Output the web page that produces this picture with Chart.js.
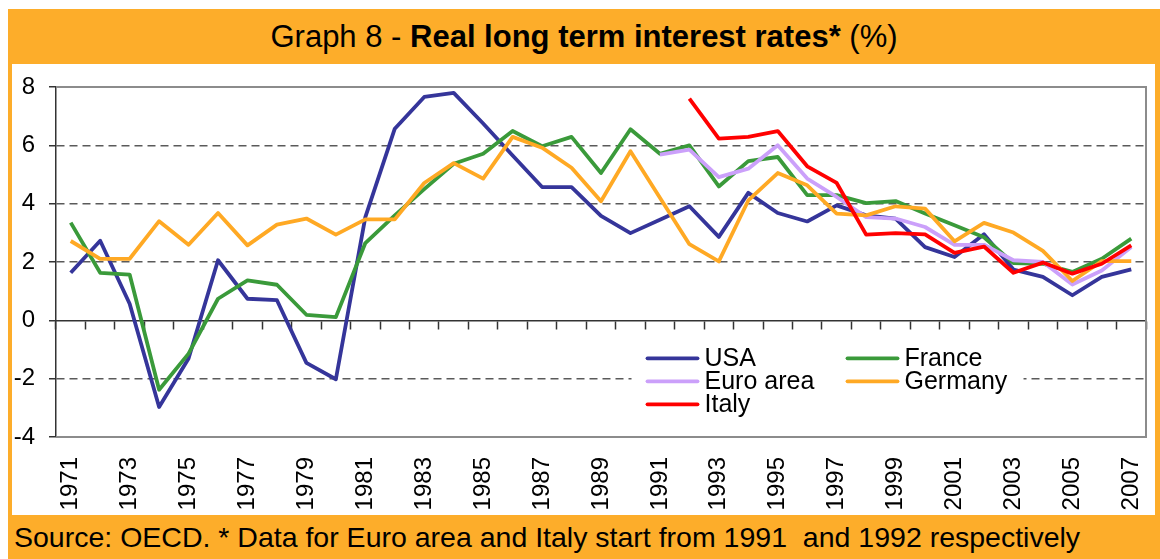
<!DOCTYPE html>
<html>
<head>
<meta charset="utf-8">
<script src="https://cdn.jsdelivr.net/npm/chart.js@4.4.1/dist/chart.umd.min.js"></script>
<style>
  body { margin: 0; background: #fff; font-family: "Liberation Sans", Arial, sans-serif; }
  #page { position: relative; width: 1160px; height: 559px; overflow: hidden; }
  #frame { position: absolute; left: 8px; top: 9px; width: 1152px; height: 550px; background: #FDAD2A; }
  #title { position: absolute; left: 8px; top: 9px; width: 1152px; height: 55px; line-height: 55px;
           text-align: center; font-size: 31px; color: #000; }
  #plotbox { position: absolute; left: 12px; top: 64px; width: 1143px; height: 451px; background: #fff; }
  #source { position: absolute; left: 14px; top: 515px; height: 44px; line-height: 44px;
            font-size: 28.5px; color: #000; white-space: pre; }
</style>
</head>
<body>
<div id="page">
  <div id="frame"></div>
  <div id="title">Graph 8 - <b>Real long term interest rates*</b> (%)</div>
  <div id="plotbox"><canvas id="rates-chart"></canvas></div>
  <div id="source">Source: OECD. * Data for Euro area and Italy start from 1991  and 1992 respectively</div>
</div>
<script>
// --- Data ---
const years = ['1971','1972','1973','1974','1975','1976','1977','1978','1979','1980',
  '1981','1982','1983','1984','1985','1986','1987','1988','1989','1990',
  '1991','1992','1993','1994','1995','1996','1997','1998','1999','2000',
  '2001','2002','2003','2004','2005','2006','2007'];

const usa = [1.63, 2.73, 0.57, -2.97, -1.31, 2.06, 0.74, 0.69, -1.46, -2.02,
  3.54, 6.57, 7.66, 7.80, 6.75, 5.65, 4.57, 4.57, 3.58, 2.99,
  3.45, 3.91, 2.86, 4.37, 3.68, 3.39, 3.94, 3.60, 3.49, 2.51,
  2.17, 2.95, 1.74, 1.49, 0.86, 1.49, 1.75];

const france = [3.35, 1.63, 1.57, -2.38, -1.14, 0.74, 1.37, 1.22, 0.19, 0.11,
  2.65, 3.60, 4.50, 5.37, 5.71, 6.49, 5.97, 6.29, 5.05, 6.55,
  5.71, 6.00, 4.59, 5.46, 5.60, 4.29, 4.29, 4.02, 4.09, 3.66,
  3.26, 2.85, 1.96, 1.94, 1.66, 2.11, 2.80];

const euroArea = [null, null, null, null, null, null, null, null, null, null,
  null, null, null, null, null, null, null, null, null, null,
  5.68, 5.85, 4.91, 5.20, 6.00, 4.86, 4.23, 3.54, 3.49, 3.20,
  2.59, 2.59, 2.06, 2.00, 1.23, 1.71, 2.51];

const germany = [2.72, 2.11, 2.11, 3.40, 2.59, 3.68, 2.57, 3.28, 3.49, 2.94,
  3.46, 3.46, 4.71, 5.39, 4.86, 6.29, 5.92, 5.23, 4.08, 5.80,
  4.20, 2.61, 2.02, 4.11, 5.05, 4.63, 3.66, 3.60, 3.91, 3.83,
  2.71, 3.34, 3.01, 2.38, 1.35, 2.03, 2.03];

const italy = [null, null, null, null, null, null, null, null, null, null,
  null, null, null, null, null, null, null, null, null, null,
  null, 7.60, 6.23, 6.29, 6.49, 5.28, 4.71, 2.94, 2.99, 2.95,
  2.31, 2.53, 1.63, 1.98, 1.60, 1.94, 2.57];

const seriesNames = ['USA', 'France', 'Euro area', 'Germany', 'Italy'];
const seriesColors = ['#35359A', '#3A9A3A', '#CBA0FA', '#FFA924', '#FF0000'];
const yTicks = [-4, -2, 0, 2, 4, 6, 8];

const FONT = '"Liberation Sans", Arial, sans-serif';

// frame around the plot area (top / right / bottom edges in gray)
const frameBox = {
  id: 'frameBox',
  beforeDatasetsDraw(chart) {
    const { ctx, chartArea: a } = chart;
    ctx.save();
    ctx.strokeStyle = '#8c8c8c';
    ctx.lineWidth = 2;
    ctx.beginPath();
    ctx.moveTo(a.left, a.top);
    ctx.lineTo(a.right, a.top);
    ctx.lineTo(a.right, a.bottom);
    ctx.lineTo(a.left, a.bottom);
    ctx.stroke();
    ctx.restore();
  }
};

// Excel-like legend sitting inside the plot, two columns
const innerLegend = {
  id: 'innerLegend',
  afterDatasetsDraw(chart) {
    const { ctx, chartArea: a } = chart;
    const w = a.right - a.left, h = a.bottom - a.top;
    const left = a.left + 0.528 * w;
    const top = a.top + 0.738 * h;
    ctx.save();
    ctx.fillStyle = '#fff';
    ctx.fillRect(left, top, 392, 72);
    ctx.font = '25px ' + FONT;
    ctx.textBaseline = 'middle';
    ctx.textAlign = 'left';
    chart.data.datasets.forEach((ds, i) => {
      const col = i % 2, row = Math.floor(i / 2);
      const x = left + 16 + col * 200;
      const y = top + 13 + row * 23;
      ctx.strokeStyle = ds.borderColor;
      ctx.lineWidth = 3.8;
      ctx.lineCap = 'round';
      ctx.beginPath();
      ctx.moveTo(x, y);
      ctx.lineTo(x + 50, y);
      ctx.stroke();
      ctx.fillStyle = '#000';
      ctx.fillText(ds.label, x + 57, y + 1);
    });
    ctx.restore();
  }
};

function initializeChart() {
  const ctx = document.getElementById('rates-chart').getContext('2d');
  const seriesData = [usa, france, euroArea, germany, italy];

  const datasets = seriesData.map((values, i) => ({
    label: seriesNames[i],
    data: values,
    borderColor: seriesColors[i],
    backgroundColor: seriesColors[i],
    borderWidth: 3.8,
    borderJoinStyle: 'round',
    pointRadius: 0,
    tension: 0,
    fill: false,
    order: seriesData.length - i   // later series drawn on top, like the original
  }));

  return new Chart(ctx, {
    type: 'line',
    data: { labels: years, datasets: datasets },
    options: {
      responsive: true,
      maintainAspectRatio: false,
      animation: false,
      layout: { padding: { left: 0, right: 9, top: 23, bottom: 0 } },
      plugins: {
        legend: { display: false },
        tooltip: { enabled: false }
      },
      scales: {
        x: {
          type: 'category',
          offset: true,
          grid: { display: false, drawTicks: false },
          border: { display: false },
          afterFit: (axis) => { axis.height = 78; axis.paddingLeft = 0; axis.paddingRight = 0; },
          ticks: {
            autoSkip: false,
            minRotation: 90,
            maxRotation: 90,
            padding: 20,
            color: '#000',
            font: { family: FONT, size: 24 },
            callback: (val, idx) => (idx % 2 === 0 ? years[idx] : '')
          }
        },
        // the category axis crossing at zero, carrying the tick marks
        x2: {
          type: 'category',
          position: { y: 0 },
          offset: true,
          afterFit: (axis) => { axis.paddingLeft = 0; axis.paddingRight = 0; },
          grid: {
            display: true,
            offset: true,
            drawOnChartArea: false,
            drawTicks: true,
            tickLength: 8,
            tickColor: '#333',
            tickWidth: 1.5
          },
          border: { display: true, color: '#333', width: 1.5 },
          ticks: { display: false }
        },
        y: {
          min: -4,
          max: 8,
          afterBuildTicks: (axis) => { axis.ticks = yTicks.map(v => ({ value: v })); },
          afterFit: (axis) => { axis.width = 44; axis.paddingTop = 0; axis.paddingBottom = 0; },
          grid: {
            color: (c) => ([2, 4, 6, -2].includes(c.tick && c.tick.value) ? '#5a5a5a' : 'rgba(0,0,0,0)'),
            lineWidth: 1.5,
            tickLength: 7,
            tickColor: '#333',
            tickWidth: 1.5
          },
          border: { display: true, color: '#333', width: 1.5, dash: [8, 5] },
          ticks: {
            padding: 14,
            color: '#000',
            font: { family: FONT, size: 24 }
          }
        }
      }
    },
    plugins: [frameBox, innerLegend]
  });
}

initializeChart();
</script>
</body>
</html>
